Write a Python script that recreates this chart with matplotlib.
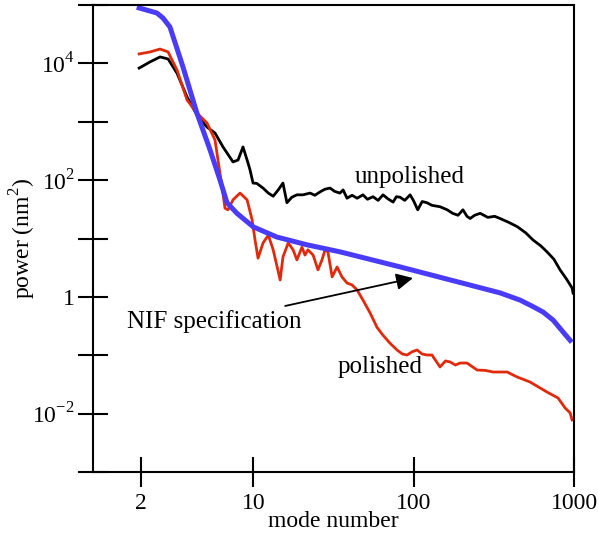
import matplotlib
matplotlib.use('Agg')
import matplotlib.pyplot as plt
from matplotlib.ticker import FixedLocator, NullLocator

plt.rcParams['font.family'] = ['Liberation Serif', 'DejaVu Serif']
plt.rcParams['mathtext.fontset'] = 'custom'
plt.rcParams['mathtext.rm'] = 'Liberation Serif'

# NIF specification
spec_mode = [1.94, 2.5, 2.73, 3.02, 3.64, 4.45, 5.37, 6.2, 6.85, 7.9, 10, 14, 21.6, 34.8,
             82, 346, 461, 556, 641, 741, 855, 946]
spec_power = [8.9e4, 7.3e4, 6.0e4, 4.2e4, 8.7e3, 1.4e3, 330, 100, 41, 27, 15.8, 10.6, 7.8, 5.9,
              3.27, 1.17, 0.88, 0.68, 0.55, 0.40, 0.25, 0.18]

# unpolished
unpol_mode = [1.94, 2.27, 2.62, 2.94, 3.34, 3.86, 4.45, 5.14, 5.77, 6.47, 7.47, 8.03, 8.62,
              9.27, 9.54, 9.96, 10.5, 11.5, 12.4, 13.3, 14.3, 15.3, 16.2, 17.4, 18.7, 20.4,
              22.6, 24.2, 26.1, 28.0, 30.1, 32.2, 34.7, 36.3, 38.4, 41.3, 44.4, 48.3, 51.5,
              55.8, 60.0, 64.4, 69.0, 74.4, 78.0, 82.2, 88.0, 95, 100, 106, 113, 121, 130,
              146, 162, 175, 189, 203, 215, 225, 240, 260, 290, 320, 346, 390, 442, 500,
              556, 620, 679, 750, 819, 900, 973, 987]
unpol_power = [8.3e3, 1.06e4, 1.29e4, 1.19e4, 6.8e3, 2.66e3, 1.3e3, 810, 640, 370, 205, 221, 370,
               196, 149, 89, 88, 73, 60, 53, 68, 89, 41, 51, 56, 56,
               60, 55, 63, 70, 73, 64, 60, 68, 49, 55, 49, 56, 47,
               52, 45, 56, 48, 42, 52, 51, 45, 56, 44, 31, 43, 41, 37,
               35, 31, 27, 25, 31, 24, 22, 25, 27, 23, 24, 22, 19, 16, 12.5,
               9.4, 7.5, 5.9, 4.4, 2.9, 2.0, 1.42, 1.16]

# polished
pol_mode = [1.94, 2.27, 2.62, 2.94, 3.34, 3.86, 4.45, 5.14, 5.77, 6.02, 6.38, 6.66, 6.95,
            7.47, 8.26, 9.14, 9.82, 10.25, 10.7, 11.5, 12.4, 13.3, 14.7, 15.3, 16.5, 17.7,
            18.7, 20.1, 21.0, 21.9, 23.6, 25.3, 26.8, 28.0, 29.2, 31.0, 33.3, 35.7, 38.4,
            41.3, 44.4, 48.3, 53.5, 59.1, 64.4, 71.3, 78.8, 85.0, 91, 98, 105, 113, 121,
            130, 146, 158, 169, 182, 195, 215, 249, 280, 313, 383, 442, 532, 679, 796,
            880, 946, 973]
pol_power = [1.45e4, 1.57e4, 1.76e4, 1.57e4, 7.7e3, 2.36e3, 1.41e3, 953, 486, 221, 76, 33, 31,
             46, 60, 46, 21, 9.4, 4.6, 8.4, 11.4, 6.4, 1.95, 4.8, 8.4, 6.4,
             4.3, 7.1, 5.2, 6.4, 5.2, 2.9, 4.3, 6.4, 5.9, 2.2, 3.25, 2.2, 1.73,
             1.6, 1.31, 0.88, 0.53, 0.30, 0.22, 0.16, 0.123, 0.105, 0.101, 0.115, 0.123, 0.105, 0.101,
             0.101, 0.063, 0.080, 0.0766, 0.068, 0.0736, 0.0736, 0.0558, 0.055, 0.0516, 0.0516, 0.0424,
             0.0348, 0.0234, 0.0185, 0.0125, 0.0103, 0.0078]

ytick_vals = [1e-3, 1e-2, 1e-1, 1, 10, 1e2, 1e3, 1e4, 1e5]
ytick_labels = ['', '10$^{\\mathregular{-2}}$', '', '1', '', '10$^{\\mathregular{2}}$', '',
                '10$^{\\mathregular{4}}$', '']
xtick_vals = [2, 10, 100, 1000]
xtick_labels = ['2', '10', '100', '1000']

fig = plt.figure(figsize=(5.98, 5.35), dpi=100)
ax = fig.add_axes([93 / 598, 63 / 535, 481 / 598, 467 / 535])

ax.plot(unpol_mode, unpol_power, color='black', lw=2.0)
ax.plot(pol_mode, pol_power, color='#e02a0c', lw=2.0)
ax.plot(spec_mode, spec_power, color='#4a3cf6', lw=3.6)

ax.set_xscale('log')
ax.set_yscale('log')
ax.set_xlim(1, 1000)
ax.set_ylim(1e-3, 1e5)

ax.xaxis.set_major_locator(FixedLocator(xtick_vals))
ax.xaxis.set_minor_locator(NullLocator())
ax.set_xticklabels(xtick_labels)
ax.yaxis.set_major_locator(FixedLocator(ytick_vals))
ax.yaxis.set_minor_locator(NullLocator())
ax.set_yticklabels(ytick_labels)

ax.tick_params(direction='inout', length=22, width=1.5, labelsize=17, pad=2)
ax.tick_params(axis='x', pad=4)
for s in ax.spines.values():
    s.set_linewidth(1.5)

ax.set_xlabel('mode number', fontsize=17, labelpad=-2)
ax.set_ylabel('power (nm$^{\\mathregular{2}}$)', fontsize=17, labelpad=-4)

ax.text(95, 113, 'unpolished', fontsize=18, ha='center', va='center')
ax.text(62, 0.063, 'polished', fontsize=18, ha='center', va='center')
ax.annotate('NIF specification', xy=(99, 2.1), xytext=(20, 0.38),
            fontsize=18, ha='right', va='center',
            arrowprops=dict(arrowstyle='-|>', color='black', lw=1.3,
                            mutation_scale=25, shrinkA=4, shrinkB=0))

plt.savefig('out.png', dpi=100)
